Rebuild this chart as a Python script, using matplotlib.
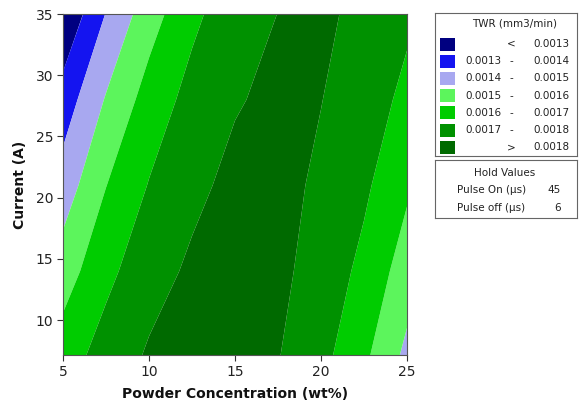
import numpy as np
import matplotlib
matplotlib.use("Agg")
import matplotlib.pyplot as plt
from matplotlib.patches import Rectangle

# ---- data ----
powder = [5, 7.5, 10, 12.5, 15, 17.5, 20, 22.5, 25]          # wt%
current = [7, 14, 21, 28, 35]                                  # A
twr = [  # rows follow `current`, columns follow `powder`
    [0.001652, 0.001743, 0.001812, 0.001845, 0.001842, 0.001804, 0.001730, 0.001620, 0.001474],
    [0.001551, 0.001674, 0.001762, 0.001816, 0.001840, 0.001822, 0.001762, 0.001674, 0.001551],
    [0.001445, 0.001598, 0.001705, 0.001777, 0.001825, 0.001828, 0.001784, 0.001718, 0.001616],
    [0.001345, 0.001508, 0.001642, 0.001734, 0.001792, 0.001822, 0.001802, 0.001755, 0.001673],
    [0.001208, 0.001404, 0.001556, 0.001677, 0.001759, 0.001801, 0.001809, 0.001788, 0.001720],
]
level_bounds = [0.0013, 0.0014, 0.0015, 0.0016, 0.0017, 0.0018]
band_colors = ['#000080', '#1414f0', '#a8a8f0', '#5cf55c', '#00cc00', '#009100', '#006a00']
legend_left = ['', '0.0013', '0.0014', '0.0015', '0.0016', '0.0017', '']
legend_mid = ['<', '-', '-', '-', '-', '-', '>']
legend_right = ['0.0013', '0.0014', '0.0015', '0.0016', '0.0017', '0.0018', '0.0018']
hold_names = ['Pulse On (µs)', 'Pulse off (µs)']
hold_values = ['45', '6']
x_ticks = [5, 10, 15, 20, 25]
y_ticks = [10, 15, 20, 25, 30, 35]

W, H = 579, 408
fig = plt.figure(figsize=(W / 100, H / 100), dpi=100)
plt.rcParams['font.family'] = ['DejaVu Sans']


def px_axes(x0, y0, x1, y1):
    return fig.add_axes([x0 / W, 1 - y1 / H, (x1 - x0) / W, (y1 - y0) / H])


ax = px_axes(63, 14, 407, 355)
X, Y = np.meshgrid(powder, current)
Z = np.array(twr)
levels = [-1.0] + level_bounds + [1.0]
ax.contourf(X, Y, Z, levels=levels, colors=band_colors, antialiased=True)
ax.set_xlim(5, 25)
ax.set_ylim(7.15, 35)
ax.set_xticks(x_ticks)
ax.set_yticks(y_ticks)
ax.tick_params(direction='out', length=4, width=0.8, labelsize=10, colors='#333333',
               labelcolor='#222222', pad=3)
for s in ax.spines.values():
    s.set_color('#555555')
    s.set_linewidth(0.8)
ax.set_xlabel('Powder Concentration (wt%)', fontsize=10, fontweight='bold', color='#111111', labelpad=6)
ax.set_ylabel('Current (A)', fontsize=10, fontweight='bold', color='#111111', labelpad=6)

# ---- legend box ----
lx0, ly0, lx1, ly1 = 435, 13, 577, 156
lg = px_axes(lx0, ly0, lx1, ly1)
lg.set_xlim(0, lx1 - lx0)
lg.set_ylim(ly1 - ly0, 0)
lg.set_xticks([]); lg.set_yticks([])
for s in lg.spines.values():
    s.set_color('#666666'); s.set_linewidth(0.8)
fs = 7.5
lg.text(80, 10, 'TWR (mm3/min)', ha='center', va='center', fontsize=fs, color='#222222')
for i, c in enumerate(band_colors):
    yc = 31 + i * 17.2
    lg.add_patch(Rectangle((5, yc - 6.5), 15, 13, facecolor=c, edgecolor='none'))
    if legend_left[i]:
        lg.text(67, yc, legend_left[i], ha='right', va='center', fontsize=fs, color='#222222')
    lg.text(76, yc, legend_mid[i], ha='center', va='center', fontsize=fs, color='#222222')
    lg.text(134, yc, legend_right[i], ha='right', va='center', fontsize=fs, color='#222222')

# ---- hold values box ----
hx0, hy0, hx1, hy1 = 435, 160, 577, 218
hb = px_axes(hx0, hy0, hx1, hy1)
hb.set_xlim(0, hx1 - hx0)
hb.set_ylim(hy1 - hy0, 0)
hb.set_xticks([]); hb.set_yticks([])
for s in hb.spines.values():
    s.set_color('#666666'); s.set_linewidth(0.8)
hb.text(70, 13, 'Hold Values', ha='center', va='center', fontsize=fs, color='#222222')
for i, (n, v) in enumerate(zip(hold_names, hold_values)):
    yc = 30 + i * 18
    hb.text(22, yc, n, ha='left', va='center', fontsize=fs, color='#222222')
    hb.text(126, yc, v, ha='right', va='center', fontsize=fs, color='#222222')

fig.savefig('out.png', dpi=100)
